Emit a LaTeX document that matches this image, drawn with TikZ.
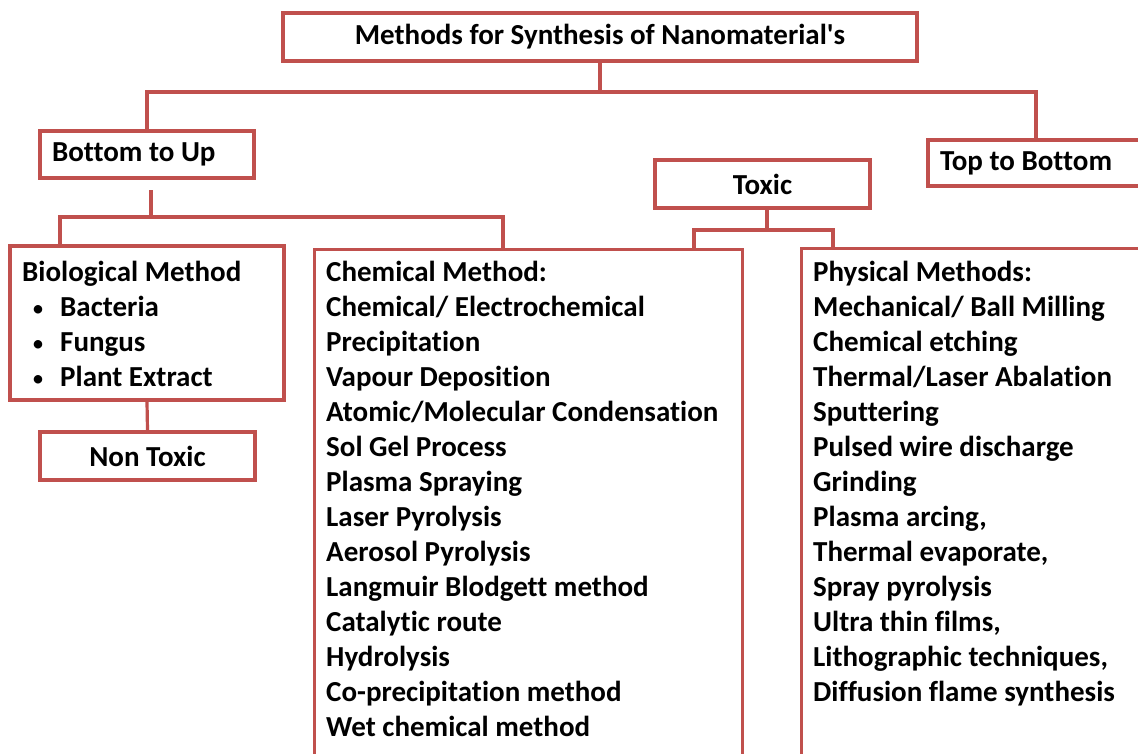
\documentclass[tikz,border=0pt]{standalone}
\usepackage{fontspec}
\setmainfont[Ligatures={NoCommon}]{Carlito}
\definecolor{boxred}{HTML}{C0504D}
\begin{document}
\begin{tikzpicture}[x=1pt,y=-1pt,
  box/.style={draw=boxred, line width=3.2pt, fill=white, inner sep=0pt},
  boxtext/.style={font=\bfseries\fontsize{29}{35}\selectfont},
  lbl/.style={font=\bfseries\fontsize{29}{35}\selectfont, inner sep=0pt, anchor=base west},
  conn/.style={draw=boxred, line width=3.2pt}]
\useasboundingbox (0,0) rectangle (1138,753);
\fill[white] (0,0) rectangle (1138,753);
\clip (0,0) rectangle (1138,753);

% boxes
\node[box, boxtext, minimum width=634pt, minimum height=48pt] (title) at (600,37) {Methods for Synthesis of Nanomaterial\textquotesingle s};
\node[box, boxtext, minimum width=214pt, minimum height=47pt] (bu) at (147,154.5) {\makebox[190pt][l]{Bottom to Up}};
\node[box, boxtext, minimum width=232pt, minimum height=46pt] (td) at (1044,163) {\makebox[208pt][l]{Top to Bottom}};
\node[box, boxtext, minimum width=215pt, minimum height=48pt] (toxic) at (762.5,184) {Toxic};
\node[box, minimum width=274pt, minimum height=154pt] (bio) at (147,323) {};
\node[box, boxtext, minimum width=215pt, minimum height=48pt] (nt) at (147.5,456) {Non Toxic};
\node[box, minimum width=428pt, minimum height=560pt, anchor=north west] (chem) at (313,248) {};
\node[box, minimum width=380pt, minimum height=560pt, anchor=north west] (phys) at (800,247) {};

% texts
\node[lbl] (biot) at (22,281) {Biological Method};
\foreach \t [count=\i] in {Bacteria, Fungus, Plant Extract}
  \node[lbl] (bio\i) at (22,281+35*\i) {\hspace*{10pt}\makebox[28pt][l]{\mdseries\fontsize{24}{24}\selectfont\textbullet}\t};

\foreach \t [count=\i from 0] in {Chemical Method:, Chemical/ Electrochemical, Precipitation,
  Vapour Deposition, Atomic/Molecular Condensation, Sol Gel Process, Plasma Spraying,
  Laser Pyrolysis, Aerosol Pyrolysis, Langmuir Blodgett method, Catalytic route,
  Hydrolysis, Co-precipitation method, Wet chemical method}
  \node[lbl] (chem\i) at (326,281+35*\i) {\t};

\foreach \t [count=\i from 0] in {Physical Methods:, Mechanical/ Ball Milling, Chemical etching,
  Thermal/Laser Abalation, Sputtering, Pulsed wire discharge, Grinding, {Plasma arcing,},
  {Thermal evaporate,}, Spray pyrolysis, {Ultra thin films,}, {Lithographic techniques,},
  Diffusion flame synthesis}
  \node[lbl] (phys\i) at (813,281+35*\i) {\t};

% connectors
\coordinate (h1) at (147,92);
\coordinate (h2) at (1036,92);
\draw[conn] (title.south) -- (title.south |- h1);
\draw[conn] (bu.north) -- (h1) -- (h2) -- (h2 |- td.north);

\coordinate (b1) at (151,190);
\coordinate (b2) at (151,217);
\coordinate (b3) at (60,217);
\coordinate (b4) at (503,217);
\draw[conn] (b1) -- (b2);
\draw[conn] (b3 |- bio.north) -- (b3) -- (b4) -- (b4 |- chem.north);

\coordinate (t1) at (767,230);
\coordinate (t2) at (694,230);
\coordinate (t3) at (833,230);
\draw[conn] (toxic.south -| t1) -- (t1);
\draw[conn] (t2 |- chem.north) -- (t2) -- (t3) -- (t3 |- phys.north);

\draw[conn] (bio.south) -- (nt.north);
\end{tikzpicture}
\end{document}
